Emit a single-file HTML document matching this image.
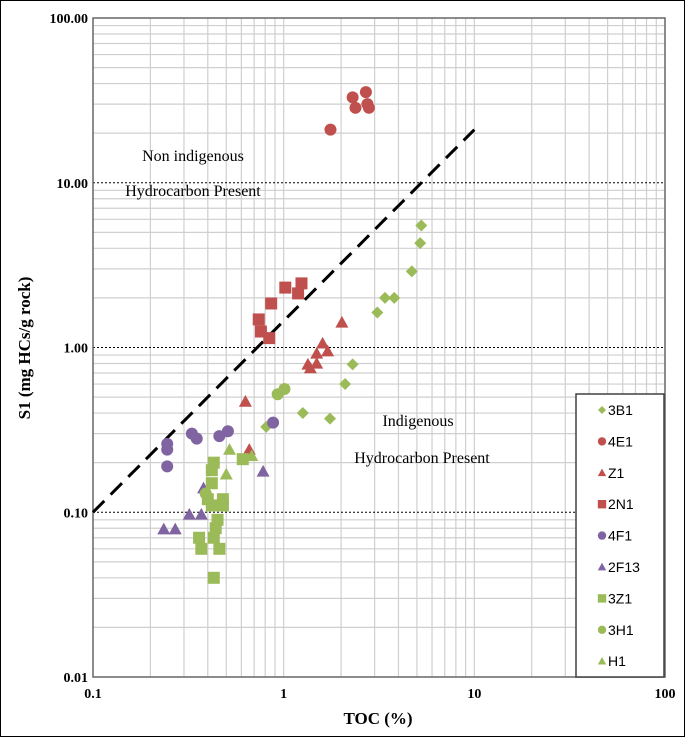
<!DOCTYPE html>
<html><head><meta charset="utf-8"><style>
body{margin:0;background:#fff}
svg{display:block}
text{font-family:"Liberation Serif",serif}
</style></head><body>
<svg id="chart" width="685" height="737" viewBox="0 0 685 737" xmlns="http://www.w3.org/2000/svg">
<rect x="0.5" y="0.5" width="684" height="736" fill="#fff" stroke="#000"/>
<g id="grid"></g>
<g id="axes"></g>
<g id="marks"></g>
<text x="193" y="161" font-size="16" text-anchor="middle">Non indigenous</text>
<text x="193" y="196" font-size="16" text-anchor="middle">Hydrocarbon Present</text>
<text x="418" y="426" font-size="16" text-anchor="middle">Indigenous</text>
<text x="422" y="463" font-size="16" text-anchor="middle">Hydrocarbon Present</text>
<text x="378" y="724" font-size="17" font-weight="bold" text-anchor="middle">TOC (%)</text>
<text transform="translate(30,348) rotate(-90)" font-size="17" font-weight="bold" text-anchor="middle">S1 (mg HCs/g rock)</text>
<g id="legend"></g>
</svg>
<script>
const xTicks=[0.1,1,10,100];
const xTickLabels=["0.1","1","10","100"];
const yTicks=[0.01,0.1,1,10,100];
const yTickLabels=["0.01","0.10","1.00","10.00","100.00"];
const seriesNames=["3B1","4E1","Z1","2N1","4F1","2F13","3Z1","3H1","H1"];
const s3B1x=[5.27,5.2,4.7,3.8,3.4,3.1,2.3,2.1,1.75,1.26,0.81];
const s3B1y=[5.5,4.3,2.9,2.0,2.0,1.63,0.79,0.60,0.37,0.40,0.33];
const s4E1x=[1.76,2.3,2.38,2.7,2.75,2.8];
const s4E1y=[21,33,28.5,35.5,30,28.5];
const sZ1x=[2.02,1.6,1.7,1.49,1.34,1.38,1.49,0.63,0.66];
const sZ1y=[1.42,1.06,0.95,0.92,0.79,0.75,0.8,0.47,0.24];
const s2N1x=[1.02,1.24,1.19,0.86,0.74,0.76,0.84];
const s2N1y=[2.31,2.45,2.13,1.85,1.48,1.25,1.14];
const s4F1x=[0.245,0.245,0.245,0.33,0.35,0.46,0.51,0.88];
const s4F1y=[0.26,0.24,0.19,0.30,0.28,0.29,0.31,0.35];
const s2F13x=[0.235,0.27,0.32,0.37,0.38,0.78];
const s2F13y=[0.079,0.079,0.097,0.097,0.14,0.177];
const s3Z1x=[0.43,0.37,0.46,0.36,0.43,0.44,0.45,0.42,0.48,0.40,0.48,0.42,0.42,0.43,0.61];
const s3Z1y=[0.04,0.06,0.06,0.07,0.07,0.08,0.09,0.11,0.11,0.12,0.12,0.15,0.18,0.20,0.21];
const s3H1x=[0.93,1.01,0.39];
const s3H1y=[0.52,0.56,0.13];
const sH1x=[0.52,0.5,0.68];
const sH1y=[0.24,0.17,0.22];
const cutoffX=[0.1,10];
const cutoffY=[0.1,21];

const NS="http://www.w3.org/2000/svg";
const L=93,R=665,T=18,B=677;
function X(v){return L+(Math.log10(v)+1)/3*(R-L);}
function Y(v){return B-(Math.log10(v)+2)/4*(B-T);}
function mk(tag,attrs,parent){const e=document.createElementNS(NS,tag);for(const k in attrs)e.setAttribute(k,attrs[k]);parent.appendChild(e);return e;}
const grid=document.getElementById('grid'),axes=document.getElementById('axes'),marks=document.getElementById('marks'),legend=document.getElementById('legend');
for(let d=-1;d<2;d++)for(let m=2;m<=10;m++){const v=m*Math.pow(10,d);if(v>=100)continue;const x=X(v);
 const ln=mk('line',{x1:x,x2:x,y1:T,y2:B,stroke:'#cfcfcf','stroke-width':1.2},grid);
 }
for(let d=-2;d<2;d++)for(let m=2;m<=9;m++){const y=Y(m*Math.pow(10,d));
 const ln=mk('line',{x1:L,x2:R,y1:y,y2:y,stroke:'#cfcfcf','stroke-width':1.2},grid);
 }
[0.1,1,10].forEach(v=>{const y=Y(v);const ln=mk('line',{x1:L,x2:R,y1:y,y2:y,stroke:'#000','stroke-width':1,'stroke-dasharray':'2,2'},grid);
 });
const fr=mk('rect',{x:L,y:T,width:R-L,height:B-T,fill:'none',stroke:'#666','stroke-width':1.5},axes);

xTicks.forEach((v,i)=>{const t=mk('text',{x:X(v),y:B+21,'font-size':14,'font-weight':'bold','text-anchor':'middle'},axes);t.textContent=xTickLabels[i];
 });
yTicks.forEach((v,i)=>{const t=mk('text',{x:L-5,y:Y(v)+5,'font-size':14,'font-weight':'bold','text-anchor':'end'},axes);t.textContent=yTickLabels[i];
 });
const cl=mk('line',{x1:X(cutoffX[0]),y1:Y(cutoffY[0]),x2:X(cutoffX[1]),y2:Y(cutoffY[1]),stroke:'#000','stroke-width':3,'stroke-dasharray':'16,9'},axes);

const G='#9bbb59',RD='#c0504d',P='#8064a2';
function shape(kind,x,y,s,col,parent){
 if(kind==='diamond')return mk('polygon',{points:`${x},${y-s} ${x+s},${y} ${x},${y+s} ${x-s},${y}`,fill:col},parent);
 if(kind==='circle')return mk('circle',{cx:x,cy:y,r:s,fill:col},parent);
 if(kind==='triangle')return mk('polygon',{points:`${x},${y-s} ${x+s},${y+s*0.8} ${x-s},${y+s*0.8}`,fill:col},parent);
 return mk('rect',{x:x-s,y:y-s,width:2*s,height:2*s,fill:col},parent);}
const series=[[s3B1x,s3B1y,'diamond',G,6],[s4E1x,s4E1y,'circle',RD,6],[sZ1x,sZ1y,'triangle',RD,6.5],[s2N1x,s2N1y,'square',RD,6],
 [s4F1x,s4F1y,'circle',P,6],[s2F13x,s2F13y,'triangle',P,6.5],[s3Z1x,s3Z1y,'square',G,6],[s3H1x,s3H1y,'circle',G,6],[sH1x,sH1y,'triangle',G,6.5]];
series.forEach((s,si)=>{s[0].forEach((xv,i)=>{const e=shape(s[2],X(xv),Y(s[1][i]),s[4],s[3],marks);
 });});
const lb=mk('rect',{x:576,y:394,width:88,height:283,fill:'#fff',stroke:'#404040','stroke-width':1.5},legend);

series.forEach((s,i)=>{const y=410+i*31.4;const e=shape(s[2],602,y,s[2]==='diamond'?4:4.2,s[3],legend);
 
 const t=mk('text',{x:608,y:y+5,'font-size':14,style:'font-family:"Liberation Sans",sans-serif'},legend);t.textContent=seriesNames[i];
 });
</script>
</body></html>
